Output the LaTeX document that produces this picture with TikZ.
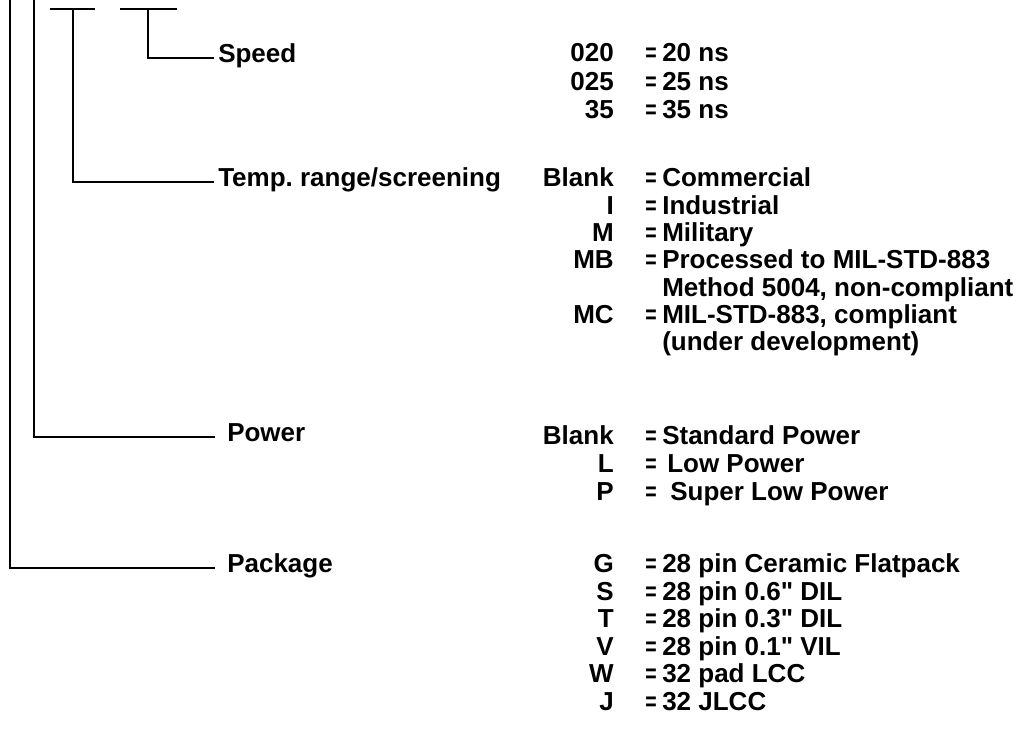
\documentclass[tikz,border=0pt]{standalone}
\usepackage{fontspec}
\setmainfont{Liberation Sans}
\newfontfamily\plainquote{Liberation Sans}
\newcommand\eqsign{\scalebox{0.75}[1.0]{=}}
\newcommand\inch{{\plainquote"}}
\newcommand\optrow[5]{%
  \node[code] (#1c) at (614,#2) {#3};
  \node[eqs] (#1e) at (645,#2) {\eqsign};
  \node[desc] (#1d) at (#4,#2) {#5};
}
\begin{document}
\begin{tikzpicture}[x=0.75pt,y=-0.75pt,
  txt/.style={font=\bfseries\fontsize{19.5}{23}\selectfont, inner sep=0pt, text height=0.72em, text depth=0pt},
  code/.style={txt, anchor=east},
  eqs/.style={txt, anchor=west},
  desc/.style={txt, anchor=west},
  lab/.style={txt, anchor=west, inner xsep=3pt},
  labwide/.style={txt, anchor=west, inner xsep=9pt},
  conn/.style={line width=1.8pt}]
\useasboundingbox (0,0) rectangle (1019,742);

% field labels
\node[lab] (speed) at (214,58) {Speed};
\node[lab] (temp) at (214,182) {Temp.\ range/screening};
\node[labwide] (power) at (215,437) {Power};
\node[labwide] (package) at (215,568) {Package};

% bracket lines
\coordinate (p1) at (10,0);
\coordinate (p2) at (34,0);
\coordinate (t3a) at (50,9);
\coordinate (t3b) at (95,9);
\coordinate (t3m) at (73,9);
\coordinate (t4a) at (120,9);
\coordinate (t4b) at (177,9);
\coordinate (t4m) at (148,9);
\draw[conn] (p1) |- (package.west);
\draw[conn] (p2) |- (power.west);
\draw[conn] (t3a) -- (t3b);
\draw[conn] (t3m) |- (temp.west);
\draw[conn] (t4a) -- (t4b);
\draw[conn] (t4m) |- (speed.west);

% speed options
\optrow{sa}{57}{020}{662}{20 ns}
\optrow{sb}{85.5}{025}{662}{25 ns}
\optrow{sc}{114}{35}{662}{35 ns}

% temperature options
\optrow{ta}{182}{Blank}{662}{Commercial}
\optrow{tb}{209.3}{I}{662}{Industrial}
\optrow{tc}{236.6}{M}{662}{Military}
\optrow{td}{263.9}{MB}{662}{Processed to MIL-STD-883}
\node[desc] (tdd2) at (662,291.2) {Method 5004, non-compliant};
\optrow{te}{318.5}{MC}{662}{MIL-STD-883, compliant}
\node[desc] (ted2) at (662,345.8) {(under development)};

% power options
\optrow{pa}{440}{Blank}{662}{Standard Power}
\optrow{pb}{468}{L}{667}{Low Power}
\optrow{pc}{496}{P}{670}{Super Low Power}

% package options
\optrow{ka}{568}{G}{662}{28 pin Ceramic Flatpack}
\optrow{kb}{595.5}{S}{662}{28 pin 0.6\inch\ DIL}
\optrow{kc}{623}{T}{662}{28 pin 0.3\inch\ DIL}
\optrow{kd}{650.5}{V}{662}{28 pin 0.1\inch\ VIL}
\optrow{ke}{678}{W}{662}{32 pad LCC}
\optrow{kf}{705.5}{J}{662}{32 JLCC}
\end{tikzpicture}
\end{document}
